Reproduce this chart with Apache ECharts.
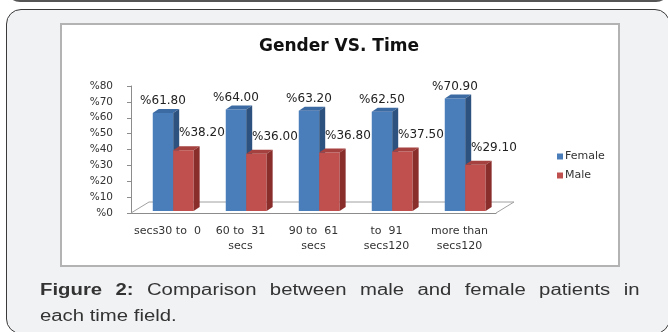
<!DOCTYPE html>
<html>
<head>
<meta charset="utf-8">
<script src="https://cdn.jsdelivr.net/npm/echarts@6/dist/echarts.min.js"></script>
<style>
  html, body { margin: 0; padding: 0; }
  body { width: 668px; height: 332px; overflow: hidden; position: relative; background: #ffffff; }
  #prev { position: absolute; left: 6px; top: -30px; width: 664px; height: 32px; box-sizing: border-box;
          border: 2px solid #555; border-radius: 14px; background: #f1f2f4; }
  #panel { position: absolute; left: 6px; top: 9px; width: 664px; height: 325px; box-sizing: border-box;
           border: 1.5px solid #3a3a3a; border-radius: 15px; background: #f1f2f4; }
  #box { position: absolute; left: 60px; top: 23px; width: 560px; height: 244px; box-sizing: border-box;
         border: 2px solid #b3b3b3; background: #ffffff; }
  #chart { position: absolute; left: 0; top: 0; width: 668px; height: 332px; }
  .cap { position: absolute; left: 40px; width: 472px; font-family: "Liberation Sans", Arial, sans-serif;
         font-size: 16px; line-height: 18px; color: #333; white-space: nowrap;
         transform: scaleX(1.27); transform-origin: 0 0; }
  #cap1 { top: 281px; text-align: justify; text-align-last: justify; white-space: normal; }
  #cap2 { top: 307px; }
</style>
</head>
<body>
<div id="prev"></div>
<div id="panel"></div>
<div id="box"></div>
<div id="chart"></div>
<div class="cap" id="cap1"><b>Figure 2:</b> Comparison between male and female patients in</div>
<div class="cap" id="cap2">each time field.</div>
<script>
// Time bands (labels as printed under the axis)
const categories = ['secs30 to  0', '60 to  31\nsecs', '90 to  61\nsecs', 'to  91\nsecs120', 'more than\nsecs120'];
// Percentage of patients in each band
const female = [61.8, 64.0, 63.2, 62.5, 70.9];
const male = [38.2, 36.0, 36.8, 37.5, 29.1];
// Value axis range
const yMin = 0, yMax = 80, yStep = 10;

const FONT = '"DejaVu Sans", Verdana, sans-serif';

// Depth of the floor and of each bar (pseudo 3D)
const FLOOR_DX = 18, FLOOR_DY = -11;
const BAR_DX = 6, BAR_DY = -4;

function barRenderer(slot, colors, labelDx, labelDy) {
  return function (params, api) {
    const i = api.value(0), v = api.value(1);
    const base = api.coord([i, 0]);
    const peak = api.coord([i, v]);
    const band = api.size([1, 0])[0];
    const w = band * 0.28;
    const ox = band * 0.085, oy = -2;
    const x0 = base[0] + (slot - 1) * w + ox - 0.5;
    const x1 = x0 + w;
    const yb = base[1] + oy, yt = peak[1] + oy;
    return {
      type: 'group',
      children: [
        { type: 'polygon', shape: { points: [[x0, yt], [x1, yt], [x1, yb], [x0, yb]] },
          style: { fill: colors.front } },
        { type: 'polygon', shape: { points: [[x0, yt], [x1, yt], [x1 + BAR_DX, yt + BAR_DY], [x0 + BAR_DX, yt + BAR_DY]] },
          style: { fill: colors.top } },
        { type: 'polygon', shape: { points: [[x1, yt], [x1 + BAR_DX, yt + BAR_DY], [x1 + BAR_DX, yb + BAR_DY], [x1, yb]] },
          style: { fill: colors.side } },
        { type: 'text', z2: 10,
          style: { text: '%' + v.toFixed(2), x: (x0 + x1) / 2 + labelDx, y: yt + labelDy,
                   align: 'center', verticalAlign: 'middle', font: '12px ' + FONT, fill: '#222' } }
      ]
    };
  };
}

function floorRenderer(params, api) {
  const band = api.size([1, 0])[0];
  const l = api.coord([0, 0]);
  const r = api.coord([categories.length - 1, 0]);
  const xl = l[0] - band / 2, xr = r[0] + band / 2, y = l[1];
  return {
    type: 'polyline',
    shape: { points: [[xl, y], [xl + FLOOR_DX, y + FLOOR_DY], [xr + FLOOR_DX, y + FLOOR_DY], [xr, y]] },
    style: { stroke: '#a0a0a0', lineWidth: 1, fill: null }
  };
}

const chart = echarts.init(document.getElementById('chart'), null, { renderer: 'canvas' });
chart.setOption({
  backgroundColor: 'transparent',
  animation: false,
  graphic: [
    { type: 'text', x: 339, y: 47,
      style: { text: 'Gender VS. Time', align: 'center', verticalAlign: 'middle',
               font: 'bold 17px ' + FONT, fill: '#111' } }
  ],
  legend: {
    data: ['Female', 'Male'], orient: 'vertical', left: 552, top: 146,
    icon: 'rect', itemWidth: 6, itemHeight: 6, itemGap: 8,
    textStyle: { fontFamily: FONT, fontSize: 11, color: '#333', padding: [0, 0, 0, -3] }
  },
  grid: { left: 131, top: 86, width: 365, height: 127, containLabel: false },
  xAxis: {
    type: 'category', data: categories,
    axisLine: { lineStyle: { color: '#8c8c8c' } },
    axisTick: { length: 5, lineStyle: { color: '#8c8c8c' } },
    axisLabel: { interval: 0, margin: 11, fontFamily: FONT, fontSize: 11, lineHeight: 15, color: '#333' }
  },
  yAxis: {
    type: 'value', min: yMin, max: yMax, interval: yStep,
    axisLine: { show: true, lineStyle: { color: '#8c8c8c' } },
    axisTick: { show: true, length: 4, lineStyle: { color: '#8c8c8c' } },
    splitLine: { show: false },
    axisLabel: { formatter: v => '%' + v, margin: 18, fontFamily: FONT, fontSize: 10.5, color: '#333' }
  },
  series: [
    { type: 'custom', name: 'floor', data: [[0, 0]], renderItem: floorRenderer, silent: true, z: 1,
      encode: { x: 0, y: 1 }, clip: false },
    { type: 'custom', name: 'Female', z: 2, clip: false,
      itemStyle: { color: '#4a7ebb' },
      data: female.map((v, i) => [i, v]), encode: { x: 0, y: 1 },
      renderItem: barRenderer(0, { front: '#4a7ebb', top: '#3c6aa3', side: '#2e527f' }, 0, -12) },
    { type: 'custom', name: 'Male', z: 3, clip: false,
      itemStyle: { color: '#c0504d' },
      data: male.map((v, i) => [i, v]), encode: { x: 0, y: 1 },
      renderItem: barRenderer(1, { front: '#c0504d', top: '#a5413e', side: '#8a2e2c' }, 18.5, -17) }
  ]
});
</script>
</body>
</html>
